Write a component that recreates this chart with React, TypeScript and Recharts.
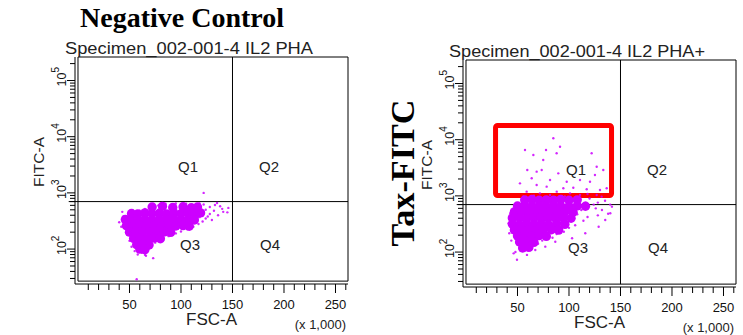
import React from 'react';
import { ScatterChart, Scatter, XAxis, YAxis, ReferenceLine, ReferenceArea } from 'recharts';

const SANS = "'Liberation Sans', Arial, sans-serif";
const SERIF = "'Liberation Serif', 'Times New Roman', serif";
const DOT = '#cc00ff';

// FSC-A in thousands, FITC-A raw (log)
const X_DOMAIN: [number, number] = [-2.9, 262.144];
const Y_DOMAIN: [number, number] = [23.9, 262144];
const X_MAX = 262.144;
const Y_MAX = 262144;
const FRAME_Y_MIN = 26.9;

const GATE_X = 150;
const GATE_Y = 700;

const xTicks = [10, 20, 30, 40, 50, 60, 70, 80, 90, 100, 110, 120, 130, 140, 150, 160, 170, 180, 190, 200, 210, 220, 230, 240, 250, 260];
const xMajor = [50, 100, 150, 200, 250];
const yTicks = [
  30, 40, 50, 60, 70, 80, 90,
  100, 200, 300, 400, 500, 600, 700, 800, 900,
  1000, 2000, 3000, 4000, 5000, 6000, 7000, 8000, 9000,
  10000, 20000, 30000, 40000, 50000, 60000, 70000, 80000, 90000,
  100000, 200000,
];
const yMajor = [100, 1000, 10000, 100000];

// Tax-FITC gate drawn on the PHA+ plot
const boxX = [28.7, 141.3];
const boxY = [1017, 17900];

// Negative control: dense core and scattered events
const negCore: [number, number][] = [
  [72, 560], [82, 575], [92, 550], [102, 565], [110, 545], [116, 560],
  [52, 430], [58, 420], [65, 440], [72, 425], [79, 435], [86, 420], [93, 440], [100, 425], [107, 435], [114, 420], [119, 440],
  [46, 335], [52, 345], [58, 330], [65, 340], [72, 325], [79, 340], [86, 330], [93, 345], [100, 330], [107, 340], [113, 330],
  [47, 260], [53, 255], [60, 265], [67, 255], [74, 262], [81, 255], [88, 265], [95, 258], [102, 262], [108, 255],
  [50, 200], [56, 205], [63, 198], [70, 204], [77, 196], [84, 202], [90, 198],
  [54, 155], [60, 158], [67, 152], [74, 157], [80, 153],
  [57, 120], [63, 123], [69, 118],
  [60, 100], [65, 98],
];
const negSparse: [number, number][] = [
  [40, 300], [42, 250], [44, 380], [43, 460], [48, 180], [50, 140], [52, 110], [55, 92], [58, 80], [62, 86],
  [66, 76], [73, 69], [65, 79], [70, 110], [75, 130], [82, 150], [88, 170], [95, 190], [100, 205], [106, 225],
  [112, 250], [117, 280], [121, 310], [124, 350], [128, 420], [132, 480], [136, 400], [140, 520], [145, 450], [141, 460],
  [146, 540], [135, 660], [128, 560], [122, 620], [118, 650], [105, 640], [95, 650], [85, 640], [78, 600], [65, 520],
  [60, 480], [122, 1000], [57, 29], [126, 380], [130, 330], [118, 370], [110, 300], [98, 280], [92, 240], [84, 210],
  [55, 350], [49, 410], [138, 580], [133, 610], [124, 500], [120, 460],
];

// IL2 PHA+: dense core and scattered events
const posCore: [number, number][] = [
  [57, 845], [64, 860], [71, 835], [78, 850], [85, 840], [92, 860], [100, 835], [108, 850],
  [50, 662], [57, 670], [64, 655], [71, 665], [78, 650], [85, 670], [92, 660], [100, 650], [108, 665], [116, 655],
  [47, 518], [54, 525], [61, 510], [68, 520], [75, 515], [82, 525], [89, 510], [96, 520], [104, 512],
  [45, 405], [52, 410], [59, 400], [66, 408], [73, 398], [80, 410], [87, 402], [94, 408], [102, 400],
  [45, 316], [52, 310], [59, 320], [66, 312], [73, 318], [80, 310], [88, 320], [96, 312],
  [47, 248], [54, 252], [61, 245], [68, 250], [75, 244], [83, 250], [90, 246],
  [50, 194], [57, 198], [64, 192], [71, 196], [78, 190],
  [52, 151], [59, 154], [66, 149],
  [55, 118], [61, 121],
];
const posSparse: [number, number][] = [
  [84.8, 10600], [91.3, 7500], [77.7, 6570], [57.3, 6570], [65.4, 5350], [122, 5730], [75, 4360], [88, 5730],
  [59.5, 2890], [68.6, 2700], [73.5, 2890], [89.6, 2520], [126.9, 3310], [133.3, 2890], [125.2, 2360], [63.8, 2060],
  [81.6, 1920], [97.8, 1790], [110.7, 1920], [120.4, 1790], [52.4, 1670], [68.6, 1565], [78.3, 1460], [94.5, 1365],
  [104.2, 1400], [117.2, 1310], [130.1, 1275], [136.6, 1365], [58.9, 1190], [88.1, 1190], [101, 1110], [110.7, 1040],
  [126.9, 1040], [71.8, 1110], [81.6, 1040], [55.6, 970], [131.7, 970], [66, 1010], [96, 980], [118, 1080],
  [46.3, 95], [49.5, 73], [59.2, 89], [67.3, 109], [77, 125], [86.7, 153], [103, 176], [115.8, 216],
  [128.8, 283], [135.2, 372], [140.1, 490], [141.7, 643], [42, 216], [41.4, 326], [43, 490],
  [120, 900], [128, 760], [135, 820], [140, 700], [126, 600], [132, 560], [138, 480], [128, 450],
  [118, 420], [114, 360], [106, 300], [100, 270], [95, 230], [88, 210], [84, 180], [74, 160],
  [70, 140], [62, 110], [48, 100], [44, 160], [124, 700], [116, 760], [112, 560], [108, 470],
];

const renderXTick = (props: any) => {
  const { x, y, payload } = props;
  const major = xMajor.includes(payload.value);
  return (
    <g>
      <line x1={x} x2={x} y1={y} y2={y + (major ? 9 : 6)} stroke="#000" />
      {major && (
        <text x={x} y={y + 24.5} textAnchor="middle" fontSize={13} fontFamily={SANS} fill="#111">
          {payload.value}
        </text>
      )}
    </g>
  );
};

const renderYTick = (props: any) => {
  const { x, y, payload } = props;
  const major = yMajor.includes(payload.value);
  const exp = Math.round(Math.log10(payload.value));
  return (
    <g>
      <line x1={x - (major ? 8 : 5)} x2={x} y1={y} y2={y} stroke="#000" />
      {major && (
        <text transform={`translate(${x - 9},${y + 6}) rotate(-90)`} fontSize={12.5} fontFamily={SANS} fill="#111">
          10<tspan dy={-7} fontSize={10}>{exp}</tspan>
        </text>
      )}
    </g>
  );
};

const coreDot = (p: any) => <circle cx={p.cx} cy={p.cy} r={4.7} fill={DOT} />;
const sparseDot = (p: any) => <circle cx={p.cx} cy={p.cy} r={1.2} fill={DOT} fillOpacity={0.85} />;

interface PlotProps {
  left: number;
  top: number;
  title: string;
  titleX: number;
  titleWidth: number;
  core: [number, number][];
  sparse: [number, number][];
  box?: boolean;
}

const Plot = ({ left, top, title, titleX, titleWidth, core, sparse, box }: PlotProps) => {
  const coreData = core.map(([x, y]) => ({ x, y }));
  const sparseData = sparse.map(([x, y]) => ({ x, y }));
  return (
    <div style={{ position: 'absolute', left, top, width: 372, height: 335 }}>
      <ScatterChart width={372} height={335} margin={{ top: 57, right: 24, bottom: 11, left: 15 }}>
        <XAxis
          type="number"
          dataKey="x"
          domain={X_DOMAIN}
          allowDataOverflow
          ticks={xTicks}
          interval={0}
          height={40}
          tickSize={0}
          tickMargin={0}
          tickLine={false}
          axisLine={{ stroke: '#000' }}
          tick={renderXTick}
        />
        <YAxis
          type="number"
          dataKey="y"
          scale="log"
          domain={Y_DOMAIN}
          allowDataOverflow
          ticks={yTicks}
          interval={0}
          width={60}
          tickSize={0}
          tickMargin={0}
          tickLine={false}
          axisLine={{ stroke: '#000' }}
          tick={renderYTick}
        />
        <Scatter data={coreData} isAnimationActive={false} shape={coreDot} />
        <Scatter data={sparseData} isAnimationActive={false} shape={sparseDot} />
        <ReferenceArea
          x1={0}
          x2={X_MAX}
          y1={FRAME_Y_MIN}
          y2={Y_MAX}
          fill="none"
          stroke="#000"
          ifOverflow="visible"
        />
        <ReferenceLine
          segment={[{ x: GATE_X, y: FRAME_Y_MIN }, { x: GATE_X, y: Y_MAX }]}
          stroke="#000"
          ifOverflow="visible"
        />
        <ReferenceLine
          segment={[{ x: -9, y: GATE_Y }, { x: X_MAX, y: GATE_Y }]}
          stroke="#000"
          ifOverflow="visible"
        />
        {box && (
          <ReferenceArea
            x1={boxX[0]}
            x2={boxX[1]}
            y1={boxY[0]}
            y2={boxY[1]}
            fill="none"
            stroke="#ff0000"
            strokeWidth={5}
            radius={2}
            ifOverflow="visible"
          />
        )}
      </ScatterChart>
      <svg width={372} height={335} style={{ position: 'absolute', left: 0, top: 0, pointerEvents: 'none' }}>
        <text x={titleX} y={54} fontSize={16} fontFamily={SANS} fill="#222" textLength={titleWidth} lengthAdjust="spacingAndGlyphs">
          {title}
        </text>
        <text transform="translate(44,162) rotate(-90)" textAnchor="middle" fontSize={15.5} fontFamily={SANS} fill="#222">
          FITC-A
        </text>
        <text x={188} y={172} textAnchor="middle" fontSize={15} fontFamily={SANS} fill="#222">Q1</text>
        <text x={269} y={172} textAnchor="middle" fontSize={15} fontFamily={SANS} fill="#222">Q2</text>
        <text x={190} y={250} textAnchor="middle" fontSize={15} fontFamily={SANS} fill="#222">Q3</text>
        <text x={270} y={250} textAnchor="middle" fontSize={15} fontFamily={SANS} fill="#222">Q4</text>
        <text x={211.5} y={324.5} textAnchor="middle" fontSize={17} fontFamily={SANS} fill="#222">FSC-A</text>
        <text x={346} y={328.5} textAnchor="end" fontSize={13} fontFamily={SANS} fill="#222">(x 1,000)</text>
      </svg>
    </div>
  );
};

export default function App() {
  return (
    <div style={{ position: 'absolute', left: 0, top: 0, width: 743, height: 335, background: '#fff', overflow: 'hidden' }}>
      <Plot left={0} top={0} title="Specimen_002-001-4 IL2 PHA" titleX={65} titleWidth={248} core={negCore} sparse={negSparse} />
      <Plot left={388} top={3} title="Specimen_002-001-4 IL2 PHA+" titleX={61} titleWidth={256} core={posCore} sparse={posSparse} box />
      <svg width={743} height={335} style={{ position: 'absolute', left: 0, top: 0, pointerEvents: 'none' }}>
        <text x={182} y={27} textAnchor="middle" fontSize={28} fontWeight="bold" fontFamily={SERIF} fill="#000">
          Negative Control
        </text>
        <text
          transform="translate(414,173) rotate(-90)"
          textAnchor="middle"
          fontSize={34}
          fontWeight="bold"
          fontFamily={SERIF}
          fill="#000"
          textLength={147}
          lengthAdjust="spacingAndGlyphs"
        >
          Tax-FITC
        </text>
      </svg>
    </div>
  );
}
